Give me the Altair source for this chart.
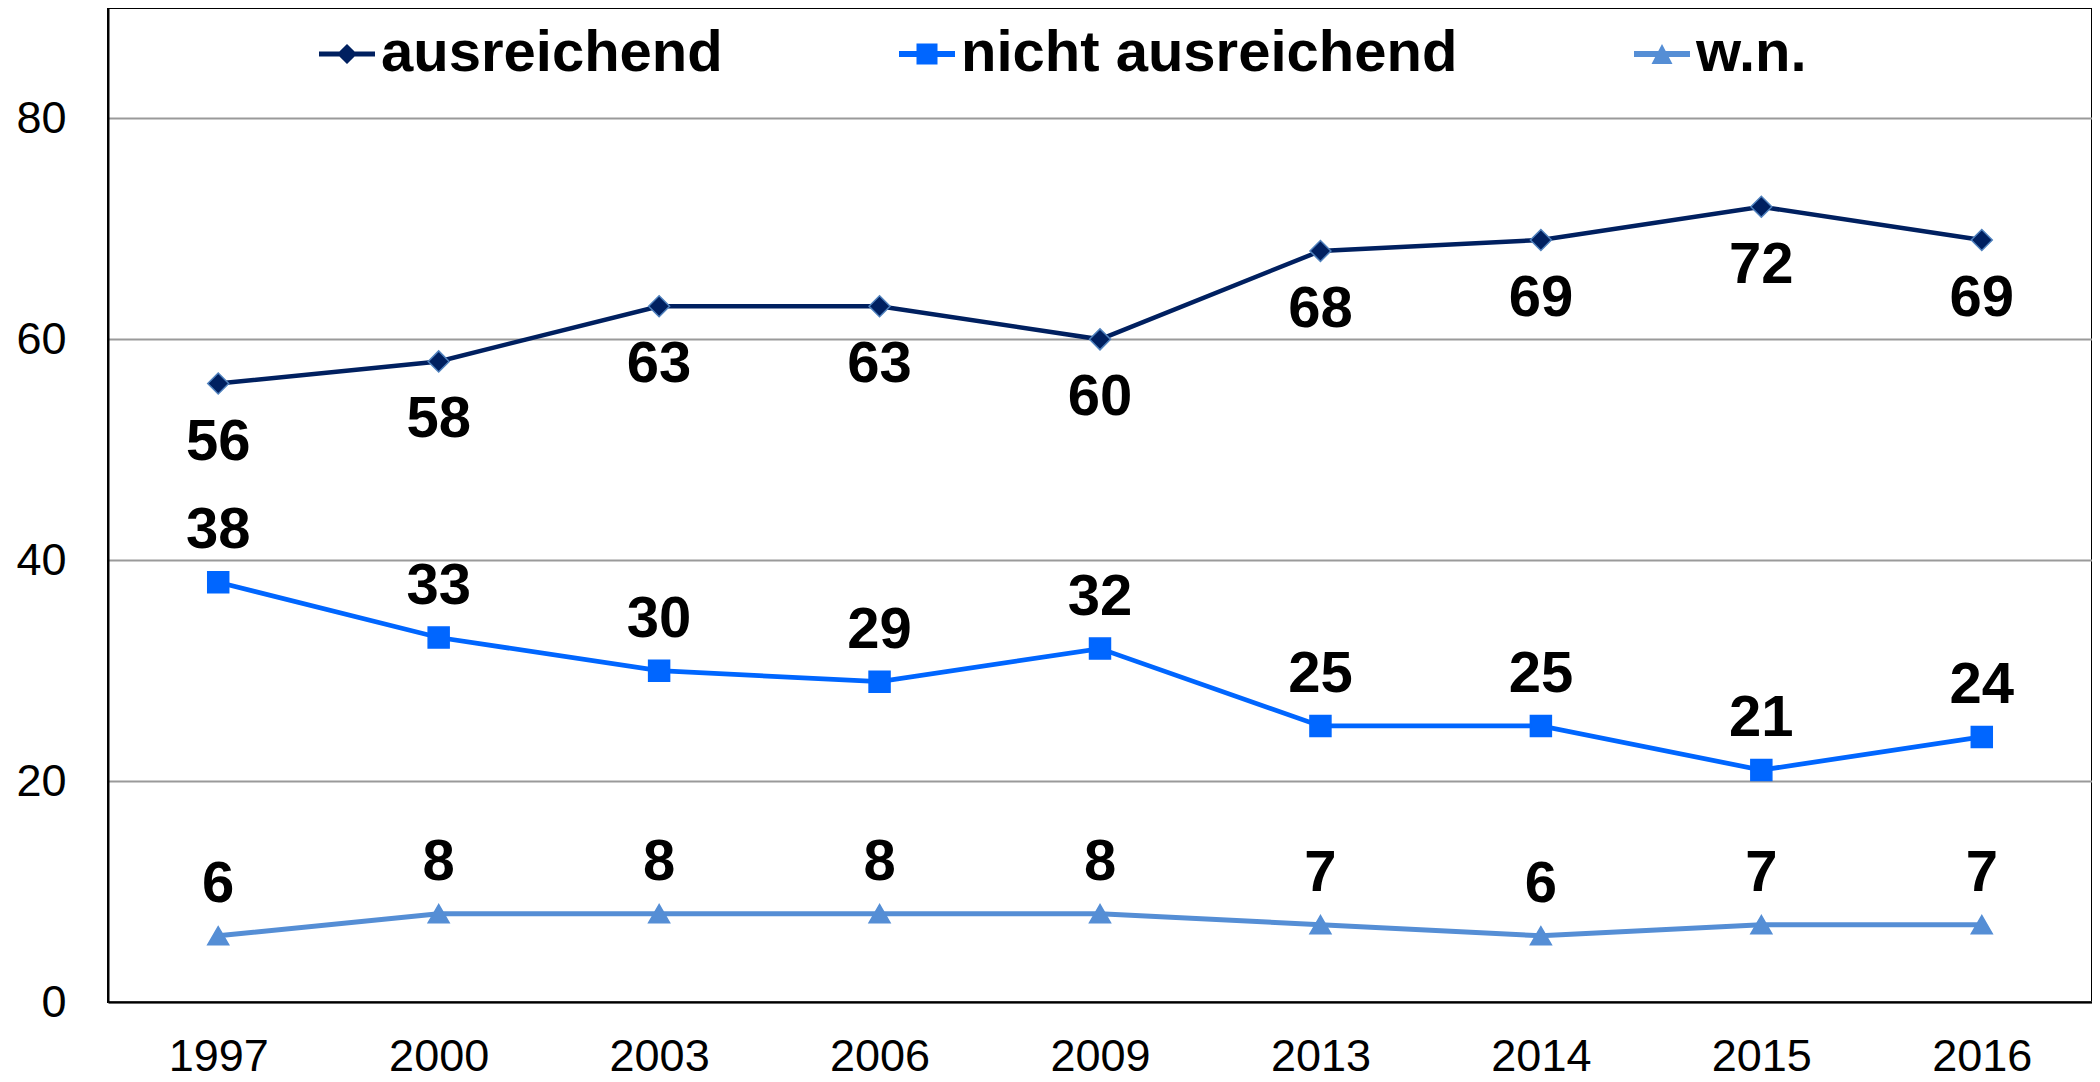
import altair as alt
import pandas as pd

# ---- data ----
years = ["1997", "2000", "2003", "2006", "2009", "2013", "2014", "2015", "2016"]
series_names = ["ausreichend", "nicht ausreichend", "w.n."]
ausreichend = [56, 58, 63, 63, 60, 68, 69, 72, 69]
nicht_ausreichend = [38, 33, 30, 29, 32, 25, 25, 21, 24]
wn = [6, 8, 8, 8, 8, 7, 6, 7, 7]
y_ticks = [0, 20, 40, 60, 80]

# ---- styles ----
line_colors = ["#002060", "#0066FF", "#558ED5"]
marker_strokes = ["#4F81BD", "#0066FF", "#558ED5"]
line_widths = [4.5, 5, 5]
marker_shapes = ["diamond", "square", "triangle-up"]
legend_shapes = [
    "M-1,-0.09H1V0.09H-1Z M-0.36,0L0,-0.36L0.36,0L0,0.36Z",
    "M-1,-0.11H1V0.11H-1Z M-0.375,-0.375H0.375V0.375H-0.375Z",
    "M-1,-0.11H1V0.11H-1Z M0,-0.36L0.375,0.36H-0.375Z",
]
FONT = "Liberation Sans, Arial, Helvetica, sans-serif"

rows = []
for name, vals in zip(series_names, [ausreichend, nicht_ausreichend, wn]):
    for yr, v in zip(years, vals):
        rows.append({"year": yr, "series": name, "value": v})
df = pd.DataFrame(rows)

x_enc = alt.X(
    "year:O",
    sort=years,
    scale=alt.Scale(type="point", padding=0.5),
    axis=alt.Axis(title=None, labelAngle=0, ticks=False, tickSize=0,
                  labelPadding=32, domainColor="black", domainWidth=2, grid=False),
)
y_enc = alt.Y(
    "value:Q",
    scale=alt.Scale(domain=[0, 90], nice=False),
    axis=alt.Axis(title=None, values=y_ticks, ticks=False, tickSize=0,
                  labelPadding=42, domainColor="black", domainWidth=2,
                  grid=True, gridColor="#9A9A9A", gridWidth=2),
)
color_scale = alt.Scale(domain=series_names, range=line_colors)

base = alt.Chart(df)

lines = base.mark_line().encode(
    x=x_enc,
    y=y_enc,
    color=alt.Color("series:N", scale=color_scale, legend=None),
    strokeWidth=alt.StrokeWidth("series:N",
                                scale=alt.Scale(domain=series_names, range=line_widths),
                                legend=None),
)

points = base.mark_point(filled=True, size=440, strokeWidth=1.5, opacity=1).encode(
    x=x_enc,
    y=y_enc,
    color=alt.Color("series:N", scale=color_scale, legend=None),
    stroke=alt.Stroke("series:N",
                      scale=alt.Scale(domain=series_names, range=marker_strokes),
                      legend=None),
    shape=alt.Shape("series:N",
                    scale=alt.Scale(domain=series_names, range=marker_shapes),
                    legend=None),
)

legend_def = dict(
    title=None, orient="none", direction="horizontal",
    legendX=210, legendY=17, padding=0,
    labelFont=FONT, labelFontSize=58, labelFontWeight="bold",
    labelColor="black", labelLimit=2000, labelOffset=5,
    columnPadding=175, symbolSize=3136, symbolOpacity=1,
    symbolStrokeWidth=0,
)

legend_layer = base.mark_point(filled=True, size=3136, opacity=0, strokeWidth=0).encode(
    x=x_enc,
    y=y_enc,
    color=alt.Color("series:N", scale=color_scale, legend=alt.Legend(**legend_def)),
    shape=alt.Shape("series:N",
                    scale=alt.Scale(domain=series_names, range=legend_shapes),
                    legend=alt.Legend(**legend_def)),
)

labels_below = base.transform_filter(
    alt.datum.series == "ausreichend"
).mark_text(font=FONT, fontSize=58, fontWeight="bold", color="black",
            baseline="middle", align="center", dy=59).encode(
    x=x_enc, y=y_enc, text=alt.Text("value:Q"),
)

labels_above = base.transform_filter(
    alt.datum.series != "ausreichend"
).mark_text(font=FONT, fontSize=58, fontWeight="bold", color="black",
            baseline="middle", align="center", dy=-51).encode(
    x=x_enc, y=y_enc, text=alt.Text("value:Q"),
)

chart = alt.layer(
    lines, points, legend_layer, labels_below, labels_above
).resolve_scale(
    color="independent", shape="independent"
).properties(
    width=1984,
    height=994,
    padding={"left": 100, "top": 0, "right": 0, "bottom": 78},
    autosize=alt.AutoSizeParams(type="none"),
).configure_view(
    stroke="black", strokeWidth=2
).configure_axis(
    labelFont=FONT, labelFontSize=45, labelColor="black",
)

chart.save("out.html", embed_options={"renderer": "svg", "actions": False})
